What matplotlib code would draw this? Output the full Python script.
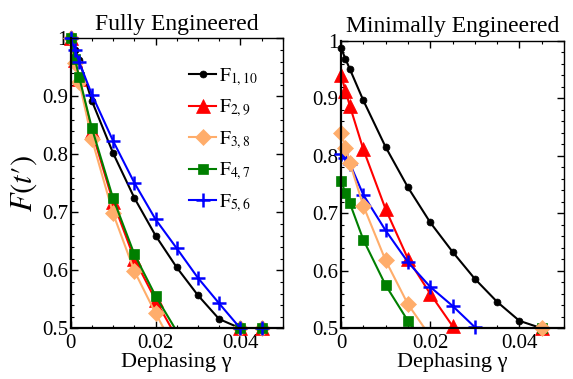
import numpy as np
import matplotlib
matplotlib.use("Agg")
import matplotlib.pyplot as plt
from matplotlib.lines import Line2D
from matplotlib.ticker import MultipleLocator, FixedLocator, FixedFormatter

plt.rcParams['font.family'] = ['Liberation Serif', 'DejaVu Serif']
plt.rcParams['mathtext.fontset'] = 'stix'

nan = np.nan
gamma = [0, 0.001, 0.002, 0.005, 0.01, 0.015, 0.02, 0.025, 0.03, 0.035, 0.04, 0.045]

# Fully Engineered
full_F1_10 = [1.0, 0.980, 0.962, 0.892, 0.802, 0.725, 0.660, 0.605, 0.557, 0.516, 0.5, 0.5]
full_F2_9 = [1.0, 0.962, 0.930, 0.840, 0.718, 0.620, 0.549, 0.484, nan, nan, 0.5, 0.5]
full_F3_8 = [1.0, 0.958, 0.925, 0.826, 0.698, 0.599, 0.526, 0.459, nan, nan, 0.5, 0.5]
full_F4_7 = [1.0, 0.964, 0.933, 0.845, 0.724, 0.628, 0.556, 0.495, nan, nan, 0.5, 0.5]
full_F5_6 = [1.0, 0.980, 0.959, 0.903, 0.823, 0.751, 0.688, 0.638, 0.587, 0.543, 0.5, 0.5]

# Minimally Engineered
min_F1_10 = [0.987, 0.968, 0.950, 0.896, 0.815, 0.745, 0.684, 0.633, 0.586, 0.546, 0.513, 0.5]
min_F2_9 = [0.940, 0.913, 0.886, 0.811, 0.707, 0.621, 0.560, 0.504, nan, nan, nan, 0.5]
min_F3_8 = [0.840, 0.814, 0.787, 0.713, 0.618, 0.542, 0.486, nan, nan, nan, nan, 0.5]
min_F4_7 = [0.756, 0.735, 0.717, 0.654, 0.575, 0.513, 0.463, nan, nan, nan, nan, 0.5]
min_F5_6 = [0.803, 0.795, 0.786, 0.732, 0.670, 0.615, 0.572, 0.539, 0.502, nan, nan, nan]

labels = [r'$\mathrm{F}_{1,10}$', r'$\mathrm{F}_{2,9}$', r'$\mathrm{F}_{3,8}$',
          r'$\mathrm{F}_{4,7}$', r'$\mathrm{F}_{5,6}$']
colors = ['#000000', '#ff0000', '#ffad6b', '#007f00', '#0000ff']
markers = ['o', '^', 'D', 's', '+']
msizes = [5, 10, 8, 7.5, 10]

x_ticks = [0, 0.02, 0.04]
x_ticklabels = ['0', '0.02', '0.04']
y_ticks = [0.5, 0.6, 0.7, 0.8, 0.9, 1.0]
y_ticklabels = ['0.5', '0.6', '0.7', '0.8', '0.9', '1']

fig = plt.figure(figsize=(5.73, 3.79), dpi=100)
W, H = 573.0, 379.0
axL = fig.add_axes([70.7 / W, 1 - 328.3 / H, 212 / W, 290 / H])
axR = fig.add_axes([341 / W, 1 - 328.3 / H, 223 / W, 287.8 / H])

def draw(ax, series, order):
    x = np.array(gamma)
    for k, i in enumerate(order):
        y = np.array(series[i], dtype=float)
        ax.plot(x, y, color=colors[i], lw=1.5, zorder=2 + k * 0.1)
        ym = np.where(y >= 0.4999, y, np.nan)
        ax.plot(x, ym, ls='none', marker=markers[i], ms=msizes[i], color=colors[i],
                mew=1.8 if markers[i] == '+' else 0.5, clip_on=False, zorder=2.05 + k * 0.1)

def style(ax, title):
    ax.set_xlim(0, 0.05)
    ax.set_ylim(0.5, 1.0)
    ax.xaxis.set_major_locator(FixedLocator(x_ticks))
    ax.xaxis.set_major_formatter(FixedFormatter(x_ticklabels))
    ax.yaxis.set_major_locator(FixedLocator(y_ticks))
    ax.yaxis.set_major_formatter(FixedFormatter(y_ticklabels))
    ax.xaxis.set_minor_locator(MultipleLocator(0.005))
    ax.yaxis.set_minor_locator(MultipleLocator(0.02))
    ax.tick_params(which='both', direction='in', top=True, right=True, labelsize=15)
    ax.tick_params(axis='x', which='major', pad=4)
    ax.tick_params(axis='y', which='major', pad=2)
    ax.tick_params(which='major', length=5, width=1)
    ax.tick_params(which='minor', length=2.5, width=0.8)
    for s in ['left', 'bottom']:
        ax.spines[s].set_linewidth(1.6)
    for s in ['top', 'right']:
        ax.spines[s].set_linewidth(1.0)
    ax.set_title(title, fontsize=17, pad=6)
    ax.set_xlabel('Dephasing γ', fontsize=16, labelpad=0)

draw(axL, [full_F1_10, full_F2_9, full_F3_8, full_F4_7, full_F5_6], [0, 1, 2, 3, 4])
draw(axR, [min_F1_10, min_F2_9, min_F3_8, min_F4_7, min_F5_6], [0, 1, 3, 4, 2])
style(axL, 'Fully Engineered')
style(axR, 'Minimally Engineered')
axL.set_ylabel("$F(t\u2032)$", fontsize=22, labelpad=2)

handles = [Line2D([], [], color=colors[i], lw=1.5, marker=markers[i], ms=msizes[i],
                  mew=1.8 if markers[i] == '+' else 0.5) for i in range(5)]
axL.legend(handles, labels, loc='upper left', bbox_to_anchor=(0.56, 0.905), frameon=False,
           fontsize=14, handlelength=1.35, handletextpad=0.15, labelspacing=0.5,
           borderpad=0, borderaxespad=0)

fig.savefig('out.png', dpi=100)
